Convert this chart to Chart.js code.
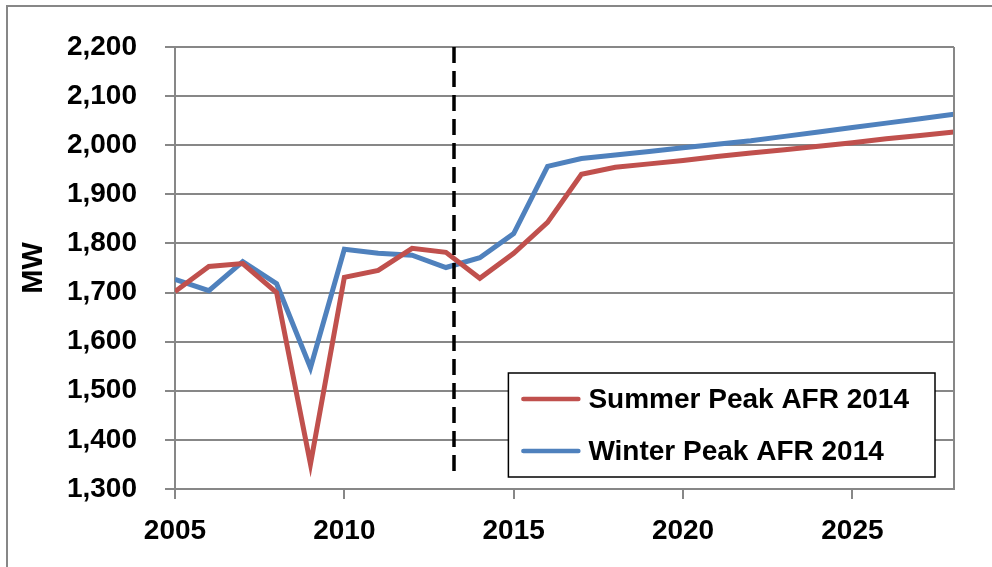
<!DOCTYPE html>
<html>
<head>
<meta charset="utf-8">
<script src="https://cdn.jsdelivr.net/npm/chart.js@4/dist/chart.umd.min.js"></script>
<style>
  html, body { margin: 0; padding: 0; background: #fff; overflow: hidden; }
  #wrap { width: 992px; height: 567px; position: relative; }
</style>
</head>
<body>
<div id="wrap"><canvas id="chart" width="992" height="567"></canvas></div>
<script>
  const years = [2005, 2006, 2007, 2008, 2009, 2010, 2011, 2012, 2013, 2014, 2015, 2016,
    2017, 2018, 2019, 2020, 2021, 2022, 2023, 2024, 2025, 2026, 2027, 2028];
  const summerPeak = [1702, 1753, 1759, 1700, 1351, 1731, 1745, 1790, 1782, 1729, 1780, 1843,
    1941, 1955, 1962, 1969, 1977, 1984, 1991, 1998, 2005, 2013, 2020, 2027];
  const winterPeak = [1727, 1704, 1763, 1718, 1547, 1788, 1780, 1776, 1751, 1771, 1820, 1957,
    1973, 1980, 1987, 1995, 2002, 2009, 2018, 2027, 2036, 2045, 2054, 2063];
  const seriesNames = ['Summer Peak AFR 2014', 'Winter Peak AFR 2014'];
  const seriesColors = ['#C0504D', '#4F81BD'];
  const yTicks = [1300, 1400, 1500, 1600, 1700, 1800, 1900, 2000, 2100, 2200];
  const xTicks = [2005, 2010, 2015, 2020, 2025];
  const forecastStart = 2013.25;

  const FONT = '"Liberation Sans", Arial, sans-serif';
  const GRID = '#878787';

  // border round the whole chart, dashed forecast line, right edge, legend
  const extras = {
    id: 'extras',
    beforeDraw(chart) {
      const ctx = chart.ctx;
      ctx.save();
      ctx.strokeStyle = GRID;
      ctx.lineWidth = 2;
      ctx.strokeRect(7, 6, 1100, 700);
      ctx.restore();
    },
    afterDatasetsDraw(chart) {
      const ctx = chart.ctx;
      const a = chart.chartArea;
      const x = Math.round(chart.scales.x.getPixelForValue(forecastStart));
      ctx.save();
      ctx.strokeStyle = '#000';
      ctx.lineWidth = 3.5;
      ctx.setLineDash([16, 8]);
      ctx.beginPath();
      ctx.moveTo(x, a.top);
      ctx.lineTo(x, a.bottom - 10);
      ctx.stroke();
      ctx.setLineDash([]);
      // right side of the plot area
      ctx.strokeStyle = GRID;
      ctx.lineWidth = 2;
      ctx.beginPath();
      ctx.moveTo(a.right, a.top);
      ctx.lineTo(a.right, a.bottom);
      ctx.stroke();
      ctx.restore();
    },
    afterDraw(chart) {
      const ctx = chart.ctx;
      const a = chart.chartArea;
      ctx.save();
      ctx.font = 'bold 28px ' + FONT;
      const textW = Math.max(...seriesNames.map(n => ctx.measureText(n).width));
      const w = 80 + textW + 26;
      const h = 104;
      const right = a.right - 19;
      const bottom = a.bottom - 12;
      const left = right - w;
      const top = bottom - h;
      ctx.fillStyle = '#fff';
      ctx.fillRect(left, top, w, h);
      ctx.strokeStyle = '#000';
      ctx.lineWidth = 1.5;
      ctx.strokeRect(left, top, w, h);
      seriesNames.forEach((name, i) => {
        const y = top + 26 + i * 52;
        ctx.strokeStyle = seriesColors[i];
        ctx.lineWidth = 4.5;
        ctx.lineCap = 'round';
        ctx.beginPath();
        ctx.moveTo(left + 15, y);
        ctx.lineTo(left + 70, y);
        ctx.stroke();
        ctx.fillStyle = '#000';
        ctx.textBaseline = 'middle';
        ctx.fillText(name, left + 80, y + 1);
      });
      ctx.restore();
    }
  };

  const toPoints = vals => vals.map((v, i) => ({ x: years[i], y: v }));

  new Chart(document.getElementById('chart'), {
    type: 'line',
    data: {
      datasets: [
        {
          label: seriesNames[0],
          data: toPoints(summerPeak),
          borderColor: seriesColors[0],
          borderWidth: 5,
          pointRadius: 0,
          tension: 0
        },
        {
          label: seriesNames[1],
          data: toPoints(winterPeak),
          borderColor: seriesColors[1],
          borderWidth: 5,
          pointRadius: 0,
          tension: 0
        }
      ]
    },
    options: {
      responsive: false,
      animation: false,
      locale: 'en-US',
      layout: { padding: { left: 13, top: 47, right: 38, bottom: 0 } },
      plugins: {
        legend: { display: false },
        tooltip: { enabled: false }
      },
      scales: {
        x: {
          type: 'linear',
          min: 2005,
          max: 2028,
          afterBuildTicks: axis => { axis.ticks = xTicks.map(v => ({ value: v })); },
          afterFit: axis => { axis.height = 78; },
          grid: { drawOnChartArea: false, color: GRID, lineWidth: 2, tickLength: 10 },
          border: { color: GRID, width: 2 },
          ticks: {
            callback: v => String(v),
            color: '#000',
            padding: 15,
            maxRotation: 0,
            font: { family: FONT, size: 28, weight: 'bold' }
          }
        },
        y: {
          min: 1300,
          max: 2200,
          afterBuildTicks: axis => { axis.ticks = yTicks.map(v => ({ value: v })); },
          afterFit: axis => { axis.width = 175 - 13; },
          grid: { color: GRID, lineWidth: 2, tickLength: 10 },
          border: { color: GRID, width: 2 },
          ticks: {
            color: '#000',
            padding: 28,
            font: { family: FONT, size: 28, weight: 'bold' }
          },
          title: {
            display: true,
            text: 'MW',
            color: '#000',
            font: { family: FONT, size: 29, weight: 'bold' }
          }
        }
      }
    },
    plugins: [extras]
  });
</script>
</body>
</html>
